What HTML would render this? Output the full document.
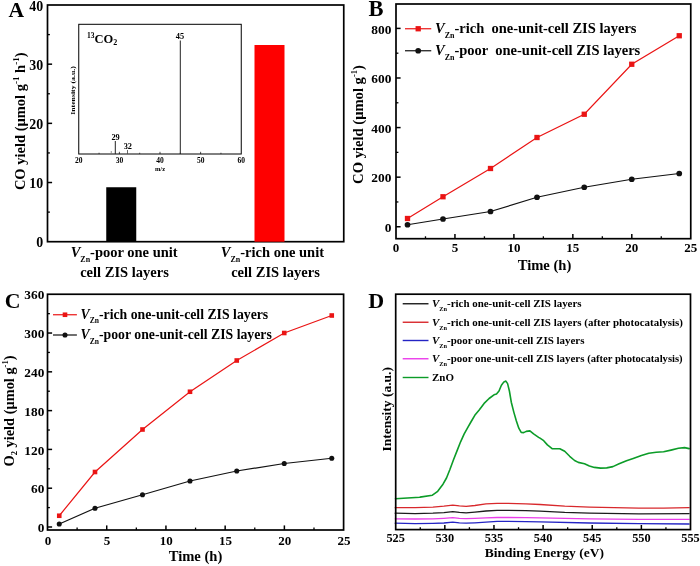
<!DOCTYPE html>
<html><head><meta charset="utf-8"><title>Figure</title>
<style>html,body{margin:0;padding:0;background:#fff}svg{display:block}text{font-family:'Liberation Serif','Times New Roman',serif;fill:#000}</style>
</head><body>
<svg width="700" height="566" viewBox="0 0 700 566">
<rect x="0" y="0" width="700" height="566" fill="#fff"/>
<rect x="47.50" y="5.00" width="296.25" height="236.70" fill="none" stroke="#000" stroke-width="1.7"/>
<text x="43.1" y="247.29999999999998" font-size="13.9" text-anchor="end" font-weight="bold" font-style="normal" >0</text>
<line x1="47.50" y1="182.52" x2="52.10" y2="182.52" stroke="#000" stroke-width="1.5"/>
<text x="43.1" y="188.12499999999997" font-size="13.9" text-anchor="end" font-weight="bold" font-style="normal" >10</text>
<line x1="47.50" y1="123.35" x2="52.10" y2="123.35" stroke="#000" stroke-width="1.5"/>
<text x="43.1" y="128.95" font-size="13.9" text-anchor="end" font-weight="bold" font-style="normal" >20</text>
<line x1="47.50" y1="64.17" x2="52.10" y2="64.17" stroke="#000" stroke-width="1.5"/>
<text x="43.1" y="69.77499999999998" font-size="13.9" text-anchor="end" font-weight="bold" font-style="normal" >30</text>
<text x="43.1" y="10.6" font-size="13.9" text-anchor="end" font-weight="bold" font-style="normal" >40</text>
<line x1="47.50" y1="212.11" x2="49.90" y2="212.11" stroke="#000" stroke-width="1.3"/>
<line x1="47.50" y1="152.94" x2="49.90" y2="152.94" stroke="#000" stroke-width="1.3"/>
<line x1="47.50" y1="93.76" x2="49.90" y2="93.76" stroke="#000" stroke-width="1.3"/>
<line x1="47.50" y1="34.59" x2="49.90" y2="34.59" stroke="#000" stroke-width="1.3"/>
<rect x="106.25" y="187.25" width="30.00" height="54.45" fill="#000" stroke="none" stroke-width="1.5"/>
<rect x="254.50" y="45.00" width="30.00" height="196.70" fill="#fe0000" stroke="none" stroke-width="1.5"/>
<text x="70.7" y="256.7" font-size="14.5" font-weight="bold" xml:space="preserve"><tspan font-style="italic">V</tspan><tspan font-size="7.9750000000000005" dy="5.07">Zn</tspan><tspan dy="-5.07">-poor one unit</tspan></text>
<text x="124.5" y="276.8" font-size="14.5" text-anchor="middle" font-weight="bold" font-style="normal" >cell ZIS layers</text>
<text x="220.8" y="256.7" font-size="14.5" font-weight="bold" xml:space="preserve"><tspan font-style="italic">V</tspan><tspan font-size="7.9750000000000005" dy="5.07">Zn</tspan><tspan dy="-5.07">-rich one unit</tspan></text>
<text x="275.5" y="276.8" font-size="14.5" text-anchor="middle" font-weight="bold" font-style="normal" >cell ZIS layers</text>
<text transform="translate(25.4,121.3) rotate(-90)" font-size="14.5" font-weight="bold" text-anchor="middle">CO yield (μmol g<tspan font-size="9" dy="-6.8">-1</tspan><tspan dy="6.8"> h</tspan><tspan font-size="9" dy="-6.8">-1</tspan><tspan dy="6.8">)</tspan></text>
<text x="8.5" y="16.6" font-size="21.6" text-anchor="start" font-weight="bold" font-style="normal" >A</text>
<rect x="78.75" y="24.30" width="162.50" height="129.70" fill="none" stroke="#000" stroke-width="1.0"/>
<text x="78.75" y="163.2" font-size="7.5" text-anchor="middle" font-weight="bold" font-style="normal" >20</text>
<line x1="119.38" y1="154.00" x2="119.38" y2="151.80" stroke="#000" stroke-width="0.7"/>
<text x="119.375" y="163.2" font-size="7.5" text-anchor="middle" font-weight="bold" font-style="normal" >30</text>
<line x1="160.00" y1="154.00" x2="160.00" y2="151.80" stroke="#000" stroke-width="0.7"/>
<text x="160.0" y="163.2" font-size="7.5" text-anchor="middle" font-weight="bold" font-style="normal" >40</text>
<line x1="200.62" y1="154.00" x2="200.62" y2="151.80" stroke="#000" stroke-width="0.7"/>
<text x="200.625" y="163.2" font-size="7.5" text-anchor="middle" font-weight="bold" font-style="normal" >50</text>
<text x="241.25" y="163.2" font-size="7.5" text-anchor="middle" font-weight="bold" font-style="normal" >60</text>
<line x1="99.06" y1="154.00" x2="99.06" y2="152.70" stroke="#000" stroke-width="0.6"/>
<line x1="139.69" y1="154.00" x2="139.69" y2="152.70" stroke="#000" stroke-width="0.6"/>
<line x1="180.31" y1="154.00" x2="180.31" y2="152.70" stroke="#000" stroke-width="0.6"/>
<line x1="220.94" y1="154.00" x2="220.94" y2="152.70" stroke="#000" stroke-width="0.6"/>
<text x="160" y="171.3" font-size="6.5" text-anchor="middle" font-weight="bold" font-style="normal" >m/z</text>
<text transform="translate(75.4,90.5) rotate(-90)" font-size="6.6" font-weight="bold" text-anchor="middle" textLength="48.5" lengthAdjust="spacingAndGlyphs">Intensity (a.u.)</text>
<text x="87" y="42.8" font-size="12.5" font-weight="bold"><tspan font-size="7.5" dy="-4.5">13</tspan><tspan dy="4.5">CO</tspan><tspan font-size="8" dy="2.5">2</tspan></text>
<line x1="180.31" y1="154.00" x2="180.31" y2="40.50" stroke="#222" stroke-width="1.0"/>
<line x1="115.31" y1="154.00" x2="115.31" y2="141.00" stroke="#222" stroke-width="1.0"/>
<line x1="127.50" y1="154.00" x2="127.50" y2="150.00" stroke="#444" stroke-width="0.8"/>
<line x1="111.25" y1="154.00" x2="111.25" y2="151.00" stroke="#777" stroke-width="0.8"/>
<text x="180.0125" y="39.3" font-size="8.3" text-anchor="middle" font-weight="bold" font-style="normal" >45</text>
<text x="115.6125" y="139.6" font-size="8.3" text-anchor="middle" font-weight="bold" font-style="normal" >29</text>
<text x="127.8" y="149" font-size="8.3" text-anchor="middle" font-weight="bold" font-style="normal" >32</text>
<rect x="396.00" y="4.00" width="294.75" height="234.70" fill="none" stroke="#000" stroke-width="1.7"/>
<line x1="396.00" y1="226.75" x2="400.60" y2="226.75" stroke="#000" stroke-width="1.5"/>
<text x="391.4" y="231.85" font-size="13.4" text-anchor="end" font-weight="bold" font-style="normal" >0</text>
<line x1="396.00" y1="177.16" x2="400.60" y2="177.16" stroke="#000" stroke-width="1.5"/>
<text x="391.4" y="182.2625" font-size="13.4" text-anchor="end" font-weight="bold" font-style="normal" >200</text>
<line x1="396.00" y1="127.58" x2="400.60" y2="127.58" stroke="#000" stroke-width="1.5"/>
<text x="391.4" y="132.675" font-size="13.4" text-anchor="end" font-weight="bold" font-style="normal" >400</text>
<line x1="396.00" y1="77.99" x2="400.60" y2="77.99" stroke="#000" stroke-width="1.5"/>
<text x="391.4" y="83.0875" font-size="13.4" text-anchor="end" font-weight="bold" font-style="normal" >600</text>
<line x1="396.00" y1="28.40" x2="400.60" y2="28.40" stroke="#000" stroke-width="1.5"/>
<text x="391.4" y="33.50000000000001" font-size="13.4" text-anchor="end" font-weight="bold" font-style="normal" >800</text>
<line x1="396.00" y1="201.96" x2="398.40" y2="201.96" stroke="#000" stroke-width="1.3"/>
<line x1="396.00" y1="152.37" x2="398.40" y2="152.37" stroke="#000" stroke-width="1.3"/>
<line x1="396.00" y1="102.78" x2="398.40" y2="102.78" stroke="#000" stroke-width="1.3"/>
<line x1="396.00" y1="53.19" x2="398.40" y2="53.19" stroke="#000" stroke-width="1.3"/>
<text x="396.0" y="252.2" font-size="13.0" text-anchor="middle" font-weight="bold" font-style="normal" >0</text>
<line x1="454.95" y1="238.70" x2="454.95" y2="234.10" stroke="#000" stroke-width="1.5"/>
<text x="454.95" y="252.2" font-size="13.0" text-anchor="middle" font-weight="bold" font-style="normal" >5</text>
<line x1="513.90" y1="238.70" x2="513.90" y2="234.10" stroke="#000" stroke-width="1.5"/>
<text x="513.9" y="252.2" font-size="13.0" text-anchor="middle" font-weight="bold" font-style="normal" >10</text>
<line x1="572.85" y1="238.70" x2="572.85" y2="234.10" stroke="#000" stroke-width="1.5"/>
<text x="572.85" y="252.2" font-size="13.0" text-anchor="middle" font-weight="bold" font-style="normal" >15</text>
<line x1="631.80" y1="238.70" x2="631.80" y2="234.10" stroke="#000" stroke-width="1.5"/>
<text x="631.8" y="252.2" font-size="13.0" text-anchor="middle" font-weight="bold" font-style="normal" >20</text>
<text x="690.75" y="252.2" font-size="13.0" text-anchor="middle" font-weight="bold" font-style="normal" >25</text>
<line x1="425.48" y1="238.70" x2="425.48" y2="236.30" stroke="#000" stroke-width="1.3"/>
<line x1="484.43" y1="238.70" x2="484.43" y2="236.30" stroke="#000" stroke-width="1.3"/>
<line x1="543.38" y1="238.70" x2="543.38" y2="236.30" stroke="#000" stroke-width="1.3"/>
<line x1="602.33" y1="238.70" x2="602.33" y2="236.30" stroke="#000" stroke-width="1.3"/>
<line x1="661.27" y1="238.70" x2="661.27" y2="236.30" stroke="#000" stroke-width="1.3"/>
<text x="544.5" y="269.6" font-size="14.6" text-anchor="middle" font-weight="bold" font-style="normal" >Time (h)</text>
<text transform="translate(363.2,124.5) rotate(-90)" font-size="14.6" font-weight="bold" text-anchor="middle">CO yield (μmol g<tspan font-size="8.5" dy="-6">-1</tspan><tspan dy="6">)</tspan></text>
<text x="368.6" y="16.2" font-size="22.5" text-anchor="start" font-weight="bold" font-style="normal" >B</text>
<polyline fill="none" stroke="#111" stroke-width="1.2" points="407.5,224.75 443,219 490.5,211.5 537,197.25 584.25,187.25 631.75,179.25 679.25,173.5"/>
<circle cx="407.5" cy="224.75" r="2.85" fill="#111"/>
<circle cx="443" cy="219" r="2.85" fill="#111"/>
<circle cx="490.5" cy="211.5" r="2.85" fill="#111"/>
<circle cx="537" cy="197.25" r="2.85" fill="#111"/>
<circle cx="584.25" cy="187.25" r="2.85" fill="#111"/>
<circle cx="631.75" cy="179.25" r="2.85" fill="#111"/>
<circle cx="679.25" cy="173.5" r="2.85" fill="#111"/>
<polyline fill="none" stroke="#ea1414" stroke-width="1.2" points="407.5,218.5 443,196.75 490.5,168.5 537,137.5 584.25,114.25 631.75,64.25 679.25,35.75"/>
<rect x="404.85" y="215.85" width="5.3" height="5.3" fill="#ea1414"/>
<rect x="440.35" y="194.1" width="5.3" height="5.3" fill="#ea1414"/>
<rect x="487.85" y="165.85" width="5.3" height="5.3" fill="#ea1414"/>
<rect x="534.35" y="134.85" width="5.3" height="5.3" fill="#ea1414"/>
<rect x="581.6" y="111.6" width="5.3" height="5.3" fill="#ea1414"/>
<rect x="629.1" y="61.6" width="5.3" height="5.3" fill="#ea1414"/>
<rect x="676.6" y="33.1" width="5.3" height="5.3" fill="#ea1414"/>
<line x1="405.00" y1="28.75" x2="431.25" y2="28.75" stroke="#ea1414" stroke-width="1.2"/>
<rect x="415.55" y="26.10" width="5.30" height="5.30" fill="#ea1414" stroke="none" stroke-width="1.5"/>
<line x1="405.00" y1="50.75" x2="431.25" y2="50.75" stroke="#111" stroke-width="1.2"/>
<circle cx="418.2" cy="50.75" r="2.85" fill="#111"/>
<text x="435" y="32.5" font-size="14.5" font-weight="bold" xml:space="preserve"><tspan font-style="italic">V</tspan><tspan font-size="7.9750000000000005" dy="5.07">Zn</tspan><tspan dy="-5.07">-rich  one-unit-cell ZIS layers</tspan></text>
<text x="435" y="54.5" font-size="14.5" font-weight="bold" xml:space="preserve"><tspan font-style="italic">V</tspan><tspan font-size="7.9750000000000005" dy="5.07">Zn</tspan><tspan dy="-5.07">-poor  one-unit-cell ZIS layers</tspan></text>
<rect x="47.50" y="294.25" width="296.10" height="235.75" fill="none" stroke="#000" stroke-width="1.7"/>
<line x1="47.50" y1="527.00" x2="52.10" y2="527.00" stroke="#000" stroke-width="1.5"/>
<text x="44.3" y="532.2" font-size="13.3" text-anchor="end" font-weight="bold" font-style="normal" >0</text>
<line x1="47.50" y1="488.21" x2="52.10" y2="488.21" stroke="#000" stroke-width="1.5"/>
<text x="44.3" y="493.4083333333333" font-size="13.3" text-anchor="end" font-weight="bold" font-style="normal" >60</text>
<line x1="47.50" y1="449.42" x2="52.10" y2="449.42" stroke="#000" stroke-width="1.5"/>
<text x="44.3" y="454.6166666666667" font-size="13.3" text-anchor="end" font-weight="bold" font-style="normal" >120</text>
<line x1="47.50" y1="410.62" x2="52.10" y2="410.62" stroke="#000" stroke-width="1.5"/>
<text x="44.3" y="415.825" font-size="13.3" text-anchor="end" font-weight="bold" font-style="normal" >180</text>
<line x1="47.50" y1="371.83" x2="52.10" y2="371.83" stroke="#000" stroke-width="1.5"/>
<text x="44.3" y="377.03333333333336" font-size="13.3" text-anchor="end" font-weight="bold" font-style="normal" >240</text>
<line x1="47.50" y1="333.04" x2="52.10" y2="333.04" stroke="#000" stroke-width="1.5"/>
<text x="44.3" y="338.2416666666666" font-size="13.3" text-anchor="end" font-weight="bold" font-style="normal" >300</text>
<text x="44.3" y="299.45" font-size="13.3" text-anchor="end" font-weight="bold" font-style="normal" >360</text>
<line x1="47.50" y1="507.60" x2="49.90" y2="507.60" stroke="#000" stroke-width="1.3"/>
<line x1="47.50" y1="468.81" x2="49.90" y2="468.81" stroke="#000" stroke-width="1.3"/>
<line x1="47.50" y1="430.02" x2="49.90" y2="430.02" stroke="#000" stroke-width="1.3"/>
<line x1="47.50" y1="391.23" x2="49.90" y2="391.23" stroke="#000" stroke-width="1.3"/>
<line x1="47.50" y1="352.44" x2="49.90" y2="352.44" stroke="#000" stroke-width="1.3"/>
<line x1="47.50" y1="313.65" x2="49.90" y2="313.65" stroke="#000" stroke-width="1.3"/>
<text x="47.9" y="544.8" font-size="13.0" text-anchor="middle" font-weight="bold" font-style="normal" >0</text>
<line x1="106.72" y1="530.00" x2="106.72" y2="525.40" stroke="#000" stroke-width="1.5"/>
<text x="107.12" y="544.8" font-size="13.0" text-anchor="middle" font-weight="bold" font-style="normal" >5</text>
<line x1="165.94" y1="530.00" x2="165.94" y2="525.40" stroke="#000" stroke-width="1.5"/>
<text x="166.34" y="544.8" font-size="13.0" text-anchor="middle" font-weight="bold" font-style="normal" >10</text>
<line x1="225.16" y1="530.00" x2="225.16" y2="525.40" stroke="#000" stroke-width="1.5"/>
<text x="225.56" y="544.8" font-size="13.0" text-anchor="middle" font-weight="bold" font-style="normal" >15</text>
<line x1="284.38" y1="530.00" x2="284.38" y2="525.40" stroke="#000" stroke-width="1.5"/>
<text x="284.78" y="544.8" font-size="13.0" text-anchor="middle" font-weight="bold" font-style="normal" >20</text>
<text x="344.0" y="544.8" font-size="13.0" text-anchor="middle" font-weight="bold" font-style="normal" >25</text>
<line x1="77.11" y1="530.00" x2="77.11" y2="527.60" stroke="#000" stroke-width="1.3"/>
<line x1="136.33" y1="530.00" x2="136.33" y2="527.60" stroke="#000" stroke-width="1.3"/>
<line x1="195.55" y1="530.00" x2="195.55" y2="527.60" stroke="#000" stroke-width="1.3"/>
<line x1="254.77" y1="530.00" x2="254.77" y2="527.60" stroke="#000" stroke-width="1.3"/>
<line x1="313.99" y1="530.00" x2="313.99" y2="527.60" stroke="#000" stroke-width="1.3"/>
<text x="195.5" y="561.3" font-size="14.6" text-anchor="middle" font-weight="bold" font-style="normal" >Time (h)</text>
<text transform="translate(13.6,411) rotate(-90)" font-size="14.4" font-weight="bold" text-anchor="middle">O<tspan font-size="8.5" dy="3">2</tspan><tspan dy="-3"> yield (μmol g</tspan><tspan font-size="8.5" dy="-6">-1</tspan><tspan dy="6">)</tspan></text>
<text x="4.8" y="307.8" font-size="21.8" text-anchor="start" font-weight="bold" font-style="normal" >C</text>
<polyline fill="none" stroke="#111" stroke-width="1.2" points="59.25,524 95,508.25 142.5,494.75 190,481 236.75,471 284.25,463.5 331.75,458.25"/>
<circle cx="59.25" cy="524" r="2.55" fill="#111"/>
<circle cx="95" cy="508.25" r="2.55" fill="#111"/>
<circle cx="142.5" cy="494.75" r="2.55" fill="#111"/>
<circle cx="190" cy="481" r="2.55" fill="#111"/>
<circle cx="236.75" cy="471" r="2.55" fill="#111"/>
<circle cx="284.25" cy="463.5" r="2.55" fill="#111"/>
<circle cx="331.75" cy="458.25" r="2.55" fill="#111"/>
<polyline fill="none" stroke="#ea1414" stroke-width="1.2" points="59.25,515.75 95,472 142.5,429.5 190,391.75 236.75,360.5 284.25,333 331.75,315.5"/>
<rect x="56.95" y="513.45" width="4.6" height="4.6" fill="#ea1414"/>
<rect x="92.7" y="469.7" width="4.6" height="4.6" fill="#ea1414"/>
<rect x="140.2" y="427.2" width="4.6" height="4.6" fill="#ea1414"/>
<rect x="187.7" y="389.45" width="4.6" height="4.6" fill="#ea1414"/>
<rect x="234.45" y="358.2" width="4.6" height="4.6" fill="#ea1414"/>
<rect x="281.95" y="330.7" width="4.6" height="4.6" fill="#ea1414"/>
<rect x="329.45" y="313.2" width="4.6" height="4.6" fill="#ea1414"/>
<line x1="53.00" y1="314.75" x2="76.90" y2="314.75" stroke="#ea1414" stroke-width="1.2"/>
<rect x="62.70" y="312.45" width="4.60" height="4.60" fill="#ea1414" stroke="none" stroke-width="1.5"/>
<line x1="53.00" y1="335.00" x2="76.90" y2="335.00" stroke="#111" stroke-width="1.2"/>
<circle cx="65" cy="335" r="2.55" fill="#111"/>
<text x="80.6" y="318.5" font-size="13.75" font-weight="bold" xml:space="preserve"><tspan font-style="italic">V</tspan><tspan font-size="7.562500000000001" dy="4.81">Zn</tspan><tspan dy="-4.81">-rich one-unit-cell ZIS layers</tspan></text>
<text x="80.6" y="339" font-size="13.75" font-weight="bold" xml:space="preserve"><tspan font-style="italic">V</tspan><tspan font-size="7.562500000000001" dy="4.81">Zn</tspan><tspan dy="-4.81">-poor one-unit-cell ZIS layers</tspan></text>
<polyline fill="none" stroke="#2424c4" stroke-width="1.3" stroke-linejoin="round" stroke-linecap="round" points="395.2,523.2 415.1,523.7 432.9,523.4 443.9,523.0 452.8,522.1 459.4,522.8 466.1,523.2 474.9,522.8 486.0,522.1 497.1,521.4 508.1,521.4 525.9,521.7 540.0,521.8 589.4,523.0 638.9,523.7 689.1,524.0"/>
<polyline fill="none" stroke="#ea3cea" stroke-width="1.3" stroke-linejoin="round" stroke-linecap="round" points="395.2,518.8 415.1,519.0 432.9,518.8 443.9,518.3 452.8,517.7 459.4,518.3 466.1,518.6 474.9,518.3 486.0,517.9 497.1,517.5 508.1,517.5 525.9,517.7 540.0,517.8 589.4,518.8 638.9,519.3 689.1,519.3"/>
<polyline fill="none" stroke="#1c1c1c" stroke-width="1.3" stroke-linejoin="round" stroke-linecap="round" points="395.2,513.2 415.1,513.7 432.9,513.2 443.9,512.6 452.8,511.7 459.4,512.4 466.1,512.8 474.9,512.1 486.0,511.0 497.1,510.4 508.1,510.4 525.9,510.6 540.0,511.1 564.7,512.4 589.4,513.1 638.9,513.9 689.1,513.6"/>
<polyline fill="none" stroke="#d8282c" stroke-width="1.3" stroke-linejoin="round" stroke-linecap="round" points="395.2,507.7 415.1,507.7 432.9,507.1 443.9,506.2 452.8,505.1 459.4,505.9 466.1,506.4 474.9,505.5 486.0,503.9 497.1,503.3 508.1,503.3 525.9,503.9 540.0,504.5 564.7,506.2 589.4,507.2 638.9,508.2 663.6,508.2 689.1,507.7"/>
<polyline fill="none" stroke="#0c9c28" stroke-width="1.6" stroke-linejoin="round" stroke-linecap="round" points="395.5,498.7 407.4,498.0 419.8,497.2 420.0,497.1 432.4,495.2 437.7,491.3 443.0,484.2 446.5,478.0 450.0,469.2 453.6,459.5 457.1,450.6 460.6,441.8 464.2,433.9 467.7,427.7 471.2,421.5 474.8,415.3 479.2,410.0 484.1,403.4 489.1,398.5 494.0,394.8 496.5,394.0 499.0,391.0 501.4,385.3 503.9,381.9 505.9,381.1 507.6,383.6 509.4,391.0 511.3,402.2 513.8,412.1 516.3,420.7 518.8,428.2 521.2,432.4 523.7,432.6 526.2,431.4 529.9,430.9 533.6,433.9 538.6,437.3 540.0,438.2 543.7,440.7 547.4,444.9 552.4,448.8 559.8,448.8 564.7,451.3 569.7,456.3 574.6,460.5 578.3,462.4 584.5,463.7 589.4,465.9 594.4,467.4 600.6,468.1 606.7,467.9 612.9,466.6 619.1,463.7 626.5,460.7 633.9,458.2 641.4,455.5 648.8,453.3 656.2,452.3 663.6,451.8 671.0,450.1 678.4,448.3 684.6,447.6 689.1,448.6"/>
<rect x="395.70" y="294.20" width="294.80" height="235.40" fill="none" stroke="#000" stroke-width="1.7"/>
<text x="395.7" y="542.2" font-size="12.3" text-anchor="middle" font-weight="bold" font-style="normal" >525</text>
<line x1="444.83" y1="529.60" x2="444.83" y2="525.00" stroke="#000" stroke-width="1.5"/>
<text x="444.8333333333333" y="542.2" font-size="12.3" text-anchor="middle" font-weight="bold" font-style="normal" >530</text>
<line x1="493.97" y1="529.60" x2="493.97" y2="525.00" stroke="#000" stroke-width="1.5"/>
<text x="493.96666666666664" y="542.2" font-size="12.3" text-anchor="middle" font-weight="bold" font-style="normal" >535</text>
<line x1="543.10" y1="529.60" x2="543.10" y2="525.00" stroke="#000" stroke-width="1.5"/>
<text x="543.1" y="542.2" font-size="12.3" text-anchor="middle" font-weight="bold" font-style="normal" >540</text>
<line x1="592.23" y1="529.60" x2="592.23" y2="525.00" stroke="#000" stroke-width="1.5"/>
<text x="592.2333333333333" y="542.2" font-size="12.3" text-anchor="middle" font-weight="bold" font-style="normal" >545</text>
<line x1="641.37" y1="529.60" x2="641.37" y2="525.00" stroke="#000" stroke-width="1.5"/>
<text x="641.3666666666667" y="542.2" font-size="12.3" text-anchor="middle" font-weight="bold" font-style="normal" >550</text>
<text x="690.5" y="542.2" font-size="12.3" text-anchor="middle" font-weight="bold" font-style="normal" >555</text>
<line x1="420.27" y1="529.60" x2="420.27" y2="527.20" stroke="#000" stroke-width="1.3"/>
<line x1="469.40" y1="529.60" x2="469.40" y2="527.20" stroke="#000" stroke-width="1.3"/>
<line x1="518.53" y1="529.60" x2="518.53" y2="527.20" stroke="#000" stroke-width="1.3"/>
<line x1="567.67" y1="529.60" x2="567.67" y2="527.20" stroke="#000" stroke-width="1.3"/>
<line x1="616.80" y1="529.60" x2="616.80" y2="527.20" stroke="#000" stroke-width="1.3"/>
<line x1="665.93" y1="529.60" x2="665.93" y2="527.20" stroke="#000" stroke-width="1.3"/>
<text x="544.3" y="557" font-size="13.5" text-anchor="middle" font-weight="bold" font-style="normal" >Binding Energy (eV)</text>
<text transform="translate(391,409.3) rotate(-90)" font-size="13.5" font-weight="bold" text-anchor="middle">Intensity (a.u.)</text>
<text x="368.2" y="308.4" font-size="22" text-anchor="start" font-weight="bold" font-style="normal" >D</text>
<line x1="402.70" y1="303.75" x2="428.50" y2="303.75" stroke="#1c1c1c" stroke-width="1.4"/>
<text x="432" y="307.35" font-size="10.95" font-weight="bold" xml:space="preserve"><tspan font-style="italic">V</tspan><tspan font-size="6.3" dy="3.70">Zn</tspan><tspan dy="-3.70">-rich one-unit-cell ZIS layers</tspan></text>
<line x1="402.70" y1="322.25" x2="428.50" y2="322.25" stroke="#d8282c" stroke-width="1.4"/>
<text x="432" y="325.85" font-size="10.95" font-weight="bold" xml:space="preserve"><tspan font-style="italic">V</tspan><tspan font-size="6.3" dy="3.70">Zn</tspan><tspan dy="-3.70">-rich one-unit-cell ZIS layers (after photocatalysis)</tspan></text>
<line x1="402.70" y1="340.50" x2="428.50" y2="340.50" stroke="#2424c4" stroke-width="1.4"/>
<text x="432" y="344.1" font-size="10.95" font-weight="bold" xml:space="preserve"><tspan font-style="italic">V</tspan><tspan font-size="6.3" dy="3.70">Zn</tspan><tspan dy="-3.70">-poor one-unit-cell ZIS layers</tspan></text>
<line x1="402.70" y1="358.75" x2="428.50" y2="358.75" stroke="#ea3cea" stroke-width="1.4"/>
<text x="432" y="362.35" font-size="10.95" font-weight="bold" xml:space="preserve"><tspan font-style="italic">V</tspan><tspan font-size="6.3" dy="3.70">Zn</tspan><tspan dy="-3.70">-poor one-unit-cell ZIS layers <tspan font-size="10.6">(after photocatalysis)</tspan></tspan></text>
<line x1="402.70" y1="377.50" x2="428.50" y2="377.50" stroke="#0c9c28" stroke-width="1.4"/>
<text x="432" y="381.2" font-size="10.95" text-anchor="start" font-weight="bold" font-style="normal" >ZnO</text>
</svg>
</body></html>
